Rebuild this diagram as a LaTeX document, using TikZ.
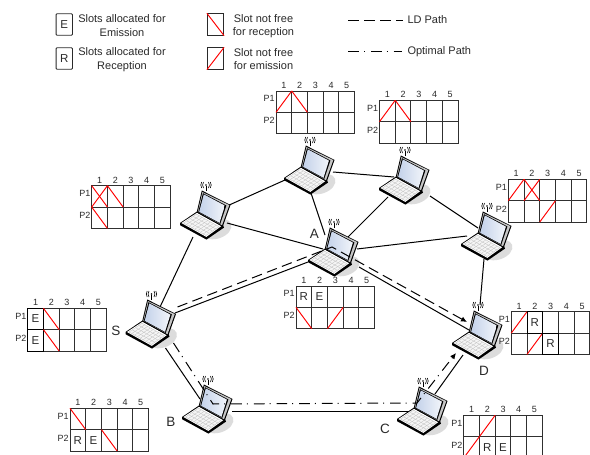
\documentclass[tikz,border=0pt]{standalone}
\usepackage{fontspec}
\setmainfont{Liberation Sans}
\usetikzlibrary{arrows.meta}
\definecolor{ink}{HTML}{2A2A2A}
\definecolor{gridc}{HTML}{303030}
\definecolor{shadowc}{HTML}{DCDCDC}
\definecolor{scrA}{HTML}{C4D2EA}
\definecolor{scrB}{HTML}{F2F5FA}
\tikzset{
  txt/.style={font=\fontsize{11}{13}\selectfont,text=ink,inner sep=0pt,align=center},
  gridnum/.style={font=\fontsize{9}{10}\selectfont,text=ink,inner sep=0pt},
  slotletter/.style={font=\fontsize{11.5}{12}\selectfont,text=ink,inner sep=0pt},
  nodelabel/.style={font=\fontsize{13.5}{14}\selectfont,text=ink,inner sep=0pt},
  legendbox/.style={draw=ink,line width=.8pt,rounded corners=1pt,minimum width=16.4pt,minimum height=21.6pt,inner sep=0pt,font=\fontsize{11.5}{12}\selectfont,text=ink},
  legendslot/.style={draw=ink,line width=.8pt,minimum width=16.4pt,minimum height=21.6pt,inner sep=0pt},
  redline/.style={red,line width=.95pt},
  link/.style={black,line width=1pt},
  ldpath/.style={black,line width=1pt,dash pattern=on 10.5pt off 5.5pt},
  optpath/.style={black,line width=1pt,dash pattern=on 10.7pt off 5pt on 1pt off 6pt},
  hosttag/.style={minimum size=1pt,inner sep=0pt,outer sep=0pt},
  tip/.style={-{Latex[length=6pt,width=5.5pt]}},
  laptopshadow/.pic={
    \fill[shadowc,rotate around={20:(20,17)}] (20,17) ellipse (15pt and 9.5pt);
  },
  laptop/.pic={
    % base
    \fill[black,line join=round] (-17,11) -- (-17,13.2) -- (9.5,27.6) -- (27,15.6) -- (26,13) -- (0,-.5) -- cycle;
    \fill[white] (-15.6,11) -- (9.3,24.9) -- (24.2,14.2) -- (0,.8) -- cycle;
    \fill[gray!8] (-13.5,11) -- (9,23.5) -- (22,14.5) -- (0,2.2) -- cycle;
    \foreach \s in {0,.125,...,1.01}
      \draw[gray!50,line width=.3pt] ({-13.5+22.5*\s},{11+12.5*\s}) -- ({-13.5+22.5*\s+13},{11+12.5*\s-8.8});
    \foreach \t in {0,.25,...,1.01}
      \draw[gray!50,line width=.3pt] ({-13.5+13*\t},{11-8.8*\t}) -- ({-13.5+13*\t+22.5},{11-8.8*\t+12.5});
    % lid
    \fill[black,line join=round] (-.3,.3) -- (4.8,-21.5) -- (33.5,-7) -- (25.8,14.5) -- cycle;
    \fill[gray!45] (.8,-.3) -- (5.4,-20) -- (32.3,-6.9) -- (25,13.2) -- cycle;
    \fill[black] (1.3,0) -- (6,-18.8) -- (29.4,-6.5) -- (23.2,11.9) -- cycle;
    \shade[left color=scrA,right color=scrB] (2.2,-.2) -- (6.8,-17.6) -- (27.9,-6.4) -- (22.5,10.8) -- cycle;
    % antenna
    \draw[black,line width=.7pt] (9,-21) -- (9,-26.5);
    \fill[black] (9,-27) circle (.9pt);
    \foreach \d in {2.5,4.3}{
      \draw[black,line width=.6pt] (9-\d,-30) .. controls (9-\d-1.2,-27) .. (9-\d,-24);
      \draw[black,line width=.6pt] (9+\d,-30) .. controls (9+\d+1.2,-27) .. (9+\d,-24);
    }
  }
}
\newcommand{\redback}[2]{\draw[redline] (#1,#2) -- ({#1+1},{#2+1});}
\newcommand{\redfwd}[2]{\draw[redline] (#1,{#2+1}) -- ({#1+1},#2);}
\newcommand{\slotmark}[4]{\node[slotletter] (#1) at ({#2+.5},{#3+.5}) {#4};}
\newcommand{\slotbox}[2]{\draw[black,line width=1pt] (#1,#2) rectangle ({#1+1},{#2+1});}
% name, x, y, content
\newcommand{\slotgrid}[4]{%
  \begin{scope}[shift={(#2,#3)},x=15.72pt,y=-21.35pt]
    \draw[gridc,line width=1pt] (0,0) rectangle (5,2);
    \draw[gridc,line width=1pt] (0,1) -- (5,1);
    \foreach \c in {1,2,3,4}\draw[gridc,line width=1pt] (\c,0) -- (\c,2);
    \foreach \c in {1,...,5}\node[gridnum] (#1-n\c) at ({\c-.5},-.26) {\c};
    \node[gridnum] (#1-p1) at (-.44,.36) {P1};
    \node[gridnum] (#1-p2) at (-.44,1.39) {P2};
    #4
  \end{scope}%
}
\newcommand{\host}[3]{\node[hosttag] (#1) at (#2,#3) {};}
\begin{document}
\begin{tikzpicture}[x=1pt,y=-1pt]
\useasboundingbox (0,0) rectangle (590,455);
\fill[white] (0,0) rectangle (590,455);

% legend
\node[legendbox] (legE) at (64.3,24.5) {E};
\node[legendbox] (legR) at (64.3,58.5) {R};
\node[txt] (legEt) at (122,25.3) {Slots allocated for\\[0.9pt]Emission};
\node[txt] (legRt) at (122,59.3) {Slots allocated for\\[0.9pt]Reception};
\node[legendslot] (legB) at (215.5,24.5) {};
\node[legendslot] (legF) at (215.5,58.5) {};
\draw[redline] (legB.north west) -- (legB.south east);
\draw[redline] (legF.south west) -- (legF.north east);
\node[txt] (legBt) at (263.5,25.8) {Slot not free\\for reception};
\node[txt] (legFt) at (263.5,58.8) {Slot not free\\for emission};
\coordinate (ldA) at (348.3,20);
\coordinate (ldB) at (403.3,20);
\coordinate (opA) at (348.3,51.7);
\coordinate (opB) at (402,51.7);
\draw[ldpath] (ldA) -- (ldB);
\draw[optpath] (opA) -- (opB);
\node[txt,anchor=west] (ldT) at (407.3,20) {LD Path};
\node[txt,anchor=west] (opT) at (407.3,51.5) {Optimal Path};

% hosts
\host{T1}{301}{167}
\host{T2}{396}{177}
\host{L}{197}{212}
\host{A}{325}{249}
\host{R}{478}{233}
\host{D}{469}{332}
\host{S}{142.5}{321}
\host{B}{199}{406}
\host{C}{414}{408}

\foreach \h in {T1,T2,L,A,R,D,S,B,C}
  \pic at (\h) {laptopshadow};

% links
\draw[link] ([shift={(32,5)}]T1.center) -- ([shift={(-2,0)}]T2.center);
\draw[link] ([shift={(30,-6)}]L.center) -- ([shift={(-16,13)}]T1.center);
\draw[link] ([shift={(10,26)}]T1.center) -- ([shift={(0,-14)}]A.center);
\draw[link] ([shift={(-8,20)}]T2.center) -- ([shift={(23,-12)}]A.center);
\draw[link] ([shift={(34,19)}]T2.center) -- ([shift={(0,-5)}]R.center);
\draw[link] ([shift={(30,11)}]L.center) -- ([shift={(-2,0)}]A.center);
\draw[link] ([shift={(-4,25)}]L.center) -- ([shift={(17.5,-14)}]S.center);
\draw[link] ([shift={(32,0)}]A.center) -- ([shift={(-11,3)}]R.center);
\draw[link] ([shift={(32.5,-8)}]S.center) -- ([shift={(-17,13)}]A.center);
\draw[link] ([shift={(34,18)}]A.center) -- ([shift={(0,-2)}]D.center);
\draw[link] ([shift={(6,26)}]R.center) -- ([shift={(11,-27)}]D.center);
\draw[link] ([shift={(-6,23)}]D.center) -- ([shift={(21,-14)}]C.center);
\draw[link] ([shift={(33,5)}]B.center) -- ([shift={(-4,3)}]C.center);
\draw[link] ([shift={(23,27)}]S.center) -- ([shift={(1,-7)}]B.center);

\foreach \h in {T1,T2,L,A,R,D,S,B,C}
  \pic at (\h) {laptop};

% paths
\draw[ldpath,tip] ([shift={(35,-14)}]S.center) -- ([shift={(7,-2)}]A.center) -- ([shift={(-2,-10)}]D.center);
\draw[optpath,tip] ([shift={(31,22)}]S.center) -- ([shift={(14,-2)}]B.center) -- ([shift={(3,-5)}]C.center) -- ([shift={(-13,21)}]D.center);

% host labels
\node[nodelabel] (Slab) at (116,331) {S};
\node[nodelabel] (Alab) at (314.3,234.3) {A};
\node[nodelabel] (Blab) at (171,421.7) {B};
\node[nodelabel] (Clab) at (385,429.3) {C};
\node[nodelabel] (Dlab) at (484,370.7) {D};

% slot grids
\slotgrid{g1}{276}{91}{\redfwd{0}{0}\redback{1}{0}}
\slotgrid{g2}{379.5}{100.3}{\redfwd{0}{0}\redback{1}{0}}
\slotgrid{g3}{508.3}{179.3}{\redfwd{0}{0}\redfwd{1}{0}\redback{1}{0}\redfwd{2}{1}}
\slotgrid{g4}{91.7}{185.7}{\redback{0}{0}\redfwd{0}{0}\redback{1}{0}\redback{0}{1}}
\slotgrid{g5}{27.7}{308.3}{\slotbox{0}{0}\slotbox{0}{1}\slotmark{g5-e1}{0}{0}{E}\slotmark{g5-e2}{0}{1}{E}\redback{1}{0}\redback{1}{1}}
\slotgrid{g6}{70}{408.3}{\redback{0}{0}\slotmark{g6-r}{0}{1}{R}\slotmark{g6-e}{1}{1}{E}\redback{2}{1}}
\slotgrid{g7}{296}{286}{\slotmark{g7-r}{0}{0}{R}\slotmark{g7-e}{1}{0}{E}\redback{0}{1}\redfwd{2}{1}}
\slotgrid{g8}{511.3}{311.7}{\redfwd{0}{0}\slotbox{1}{0}\slotmark{g8-r1}{1}{0}{R}\redfwd{1}{1}\slotbox{2}{1}\slotmark{g8-r2}{2}{1}{R}}
\slotgrid{g9}{463.7}{415.3}{\redfwd{1}{0}\redfwd{0}{1}\slotmark{g9-r}{1}{1}{R}\slotmark{g9-e}{2}{1}{E}}
\end{tikzpicture}
\end{document}
